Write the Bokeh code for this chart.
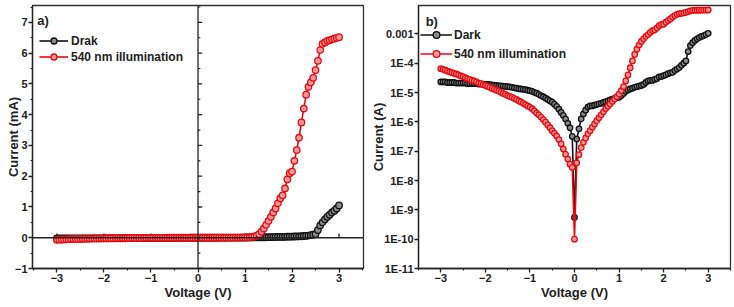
from bokeh.plotting import figure
from bokeh.layouts import row
from bokeh.models import (FixedTicker, Span, Label, Legend, LegendItem,
                          CustomJSTickFormatter, ColumnDataSource)
from bokeh.embed import file_html
from bokeh.resources import INLINE

# Voltage sweep (V)
voltage = [
    -3.00, -2.95, -2.90, -2.85, -2.80, -2.75, -2.70, -2.65, -2.60, -2.55,
    -2.50, -2.45, -2.40, -2.35, -2.30, -2.25, -2.20, -2.15, -2.10, -2.05,
    -2.00, -1.95, -1.90, -1.85, -1.80, -1.75, -1.70, -1.65, -1.60, -1.55,
    -1.50, -1.45, -1.40, -1.35, -1.30, -1.25, -1.20, -1.15, -1.10, -1.05,
    -1.00, -0.95, -0.90, -0.85, -0.80, -0.75, -0.70, -0.65, -0.60, -0.55,
    -0.50, -0.45, -0.40, -0.35, -0.30, -0.25, -0.20, -0.15, -0.10, -0.05,
    0.00,
    0.05, 0.10, 0.15, 0.20, 0.25, 0.30, 0.35, 0.40, 0.45, 0.50,
    0.55, 0.60, 0.65, 0.70, 0.75, 0.80, 0.85, 0.90, 0.95, 1.00,
    1.05, 1.10, 1.15, 1.20, 1.25, 1.30, 1.35, 1.40, 1.45, 1.50,
    1.55, 1.60, 1.65, 1.70, 1.75, 1.80, 1.85, 1.90, 1.95, 2.00,
    2.05, 2.10, 2.15, 2.20, 2.25, 2.30, 2.35, 2.40, 2.45, 2.50,
    2.55, 2.60, 2.65, 2.70, 2.75, 2.80, 2.85, 2.90, 2.95, 3.00,
]

# Dark current (A)
dark_current = [
    -2.3e-5, -2.3e-5, -2.3e-5, -2.2e-5, -2.2e-5, -2.2e-5, -2.2e-5, -2.1e-5, -2.1e-5, -2.1e-5,
    -2.1e-5, -2.1e-5, -2.0e-5, -2.0e-5, -2.0e-5, -2.0e-5, -2.0e-5, -1.95e-5, -1.95e-5, -1.95e-5,
    -1.9e-5, -1.9e-5, -1.86e-5, -1.82e-5, -1.78e-5, -1.74e-5, -1.70e-5, -1.70e-5, -1.66e-5, -1.62e-5,
    -1.58e-5, -1.55e-5, -1.51e-5, -1.45e-5, -1.41e-5, -1.35e-5, -1.32e-5, -1.29e-5, -1.26e-5, -1.20e-5,
    -1.15e-5, -1.10e-5, -1.02e-5, -9.5e-6, -8.7e-6, -7.9e-6, -7.2e-6, -6.5e-6, -5.8e-6, -5.2e-6,
    -4.7e-6, -4.0e-6, -3.4e-6, -2.7e-6, -2.1e-6, -1.66e-6, -1.26e-6, -8.9e-7, -6.3e-7, -3.2e-7,
    5.5e-10,
    2.6e-7, 5.8e-7, 1.26e-6, 1.86e-6, 2.5e-6, 3.2e-6, 3.5e-6, 3.5e-6, 3.7e-6, 3.9e-6,
    4.1e-6, 4.3e-6, 4.6e-6, 4.9e-6, 5.2e-6, 5.6e-6, 6.0e-6, 6.3e-6, 6.6e-6, 6.9e-6,
    7.9e-6, 9.3e-6, 1.10e-5, 1.23e-5, 1.32e-5, 1.41e-5, 1.51e-5, 1.58e-5, 1.66e-5, 1.74e-5,
    1.9e-5, 2.2e-5, 2.5e-5, 2.6e-5, 2.6e-5, 2.8e-5, 3.0e-5, 3.4e-5, 3.5e-5, 3.8e-5,
    4.0e-5, 4.4e-5, 4.7e-5, 4.9e-5, 5.6e-5, 6.3e-5, 7.1e-5, 8.5e-5, 1.0e-4, 1.2e-4,
    2.5e-4, 4.0e-4, 5.0e-4, 6.0e-4, 6.8e-4, 7.5e-4, 8.2e-4, 8.8e-4, 9.5e-4, 1.05e-3,
]

# Current under 540 nm illumination (A)
light_current = [
    -6.5e-5, -6.2e-5, -5.8e-5, -5.4e-5, -5.1e-5, -4.8e-5, -4.5e-5, -4.3e-5, -4.0e-5, -3.7e-5,
    -3.5e-5, -3.2e-5, -3.0e-5, -2.8e-5, -2.6e-5, -2.5e-5, -2.3e-5, -2.1e-5, -2.0e-5, -1.86e-5,
    -1.74e-5, -1.62e-5, -1.51e-5, -1.38e-5, -1.29e-5, -1.20e-5, -1.12e-5, -1.02e-5, -9.3e-6, -8.7e-6,
    -7.9e-6, -7.4e-6, -6.9e-6, -6.3e-6, -5.8e-6, -5.2e-6, -4.8e-6, -4.3e-6, -3.9e-6, -3.5e-6,
    -3.2e-6, -2.8e-6, -2.4e-6, -2.0e-6, -1.74e-6, -1.45e-6, -1.20e-6, -9.8e-7, -7.9e-7, -6.3e-7,
    -5.0e-7, -4.1e-7, -3.3e-7, -2.5e-7, -1.78e-7, -1.20e-7, -7.9e-8, -5.4e-8, -3.6e-8, -2.8e-8,
    1.0e-10,
    4.0e-8, 7.6e-8, 1.32e-7, 2.0e-7, 2.8e-7, 3.9e-7, 5.0e-7, 6.5e-7, 8.5e-7, 1.10e-6,
    1.38e-6, 1.74e-6, 2.2e-6, 2.8e-6, 3.4e-6, 4.1e-6, 5.0e-6, 6.0e-6, 7.2e-6, 8.9e-6,
    1.17e-5, 1.58e-5, 2.5e-5, 4.0e-5, 7.0e-5, 1.2e-4, 2.0e-4, 3.0e-4, 4.2e-4, 5.5e-4,
    6.8e-4, 8.2e-4, 9.5e-4, 1.12e-3, 1.28e-3, 1.38e-3, 1.6e-3, 1.9e-3, 2.1e-3, 2.15e-3,
    2.5e-3, 2.85e-3, 3.25e-3, 3.75e-3, 4.2e-3, 4.65e-3, 4.9e-3, 5.05e-3, 5.2e-3, 5.45e-3,
    5.75e-3, 6.1e-3, 6.3e-3, 6.35e-3, 6.4e-3, 6.42e-3, 6.45e-3, 6.47e-3, 6.5e-3, 6.52e-3,
]

# Axis ticks
v_ticks = [-3, -2, -1, 0, 1, 2, 3]
v_minor = [-3.5, -2.5, -1.5, -0.5, 0.5, 1.5, 2.5, 3.5]
ma_ticks = [-1, 0, 1, 2, 3, 4, 5, 6, 7]
ma_minor = [-0.5, 0.5, 1.5, 2.5, 3.5, 4.5, 5.5, 6.5, 7.5]
log_ticks = [1e-11, 1e-10, 1e-9, 1e-8, 1e-7, 1e-6, 1e-5, 1e-4, 1e-3]
log_labels = ["1E-11", "1E-10", "1E-9", "1E-8", "1E-7", "1E-6", "1E-5", "1E-4", "0.001"]

FONT = "Liberation Sans"
RED = "#e8090f"
RED_FILL = "#ff9a9a"
BLACK = "#111111"
BLACK_FILL = "#8a8a8a"

src = ColumnDataSource(dict(
    v=voltage,
    dark_ma=[i * 1e3 for i in dark_current],
    light_ma=[i * 1e3 for i in light_current],
    dark_abs=[abs(i) for i in dark_current],
    light_abs=[abs(i) for i in light_current],
))


def style(p):
    p.grid.visible = False
    p.outline_line_color = "#333333"
    p.outline_line_width = 1.3
    p.background_fill_color = "white"
    p.border_fill_color = "white"
    for ax in p.axis:
        ax.axis_line_color = "#222222"
        ax.axis_line_width = 1.3
        ax.major_tick_line_color = "#222222"
        ax.major_tick_line_width = 1.3
        ax.minor_tick_line_color = "#222222"
        ax.minor_tick_line_width = 1.1
        ax.major_tick_in = 0
        ax.major_tick_out = 4
        ax.minor_tick_in = 0
        ax.minor_tick_out = 2
        ax.major_label_text_font = FONT
        ax.major_label_text_font_style = "bold"
        ax.major_label_text_font_size = "11px"
        ax.major_label_text_color = "#222222"
        ax.major_label_standoff = 1
        ax.axis_label_text_font = FONT
        ax.axis_label_text_font_style = "bold"
        ax.axis_label_text_font_size = "13px"
        ax.axis_label_text_color = "#222222"
        ax.axis_label_standoff = 0


def add_series(p, ycol, color, fill, size, label_names):
    lines, marks = [], []
    for col, c, f in zip(ycol, color, fill):
        ln = p.line("v", col, source=src, line_color=c, line_width=1.6)
        mk = p.scatter("v", col, source=src, marker="circle", size=size,
                       line_color=c, line_width=1.3, fill_color=f)
        lines.append(ln)
        marks.append(mk)
    return [LegendItem(label=n, renderers=[l, m])
            for n, l, m in zip(label_names, lines, marks)]


# ---- (a) linear current ----
p1 = figure(width=367, height=307, x_range=(-3.52, 3.52), y_range=(-1, 7.55),
            output_backend="svg", toolbar_location=None,
            min_border_left=32, min_border_right=4, min_border_top=4,
            min_border_bottom=37)
style(p1)
p1.yaxis.axis_label_standoff = -9
p1.xaxis.ticker = FixedTicker(ticks=v_ticks, minor_ticks=v_minor)
p1.yaxis.ticker = FixedTicker(ticks=ma_ticks, minor_ticks=ma_minor)
p1.xaxis.axis_label = "Voltage (V)"
p1.yaxis.axis_label = "Current (mA)"

# zero axes crossing inside the frame
p1.add_layout(Span(location=0, dimension="height", line_color="#222222", line_width=1.3))
p1.add_layout(Span(location=0, dimension="width", line_color="#222222", line_width=1.3))
p1.segment(x0=[0] * len(ma_ticks), y0=ma_ticks, x1=[0.09] * len(ma_ticks), y1=ma_ticks,
           line_color="#222222", line_width=1.3)
p1.segment(x0=[0] * len(ma_minor), y0=ma_minor, x1=[0.05] * len(ma_minor), y1=ma_minor,
           line_color="#222222", line_width=1.1)
p1.segment(x0=v_ticks, y0=[0] * len(v_ticks), x1=v_ticks, y1=[0.14] * len(v_ticks),
           line_color="#222222", line_width=1.3)

items1 = add_series(p1, ["dark_ma", "light_ma"], [BLACK, RED], [BLACK_FILL, RED_FILL], 6.5,
                    ["Drak", "540 nm illumination"])
leg1 = Legend(items=items1, location=(7, 204), glyph_width=29, glyph_height=15,
              label_height=15, spacing=1, padding=0, margin=0, label_standoff=3,
              border_line_color=None, background_fill_alpha=0,
              label_text_font=FONT, label_text_font_style="bold",
              label_text_font_size="12px", label_text_color="#222222")
p1.add_layout(leg1)
p1.add_layout(Label(x=-3.42, y=7.07, text="a)", text_font=FONT, text_font_style="bold",
                    text_font_size="13px", text_baseline="middle", text_color="#222222"))

# ---- (b) log |current| ----
p2 = figure(width=367, height=307, x_range=(-3.5, 3.5), y_range=(1e-11, 9.3e-3),
            y_axis_type="log", output_backend="svg", toolbar_location=None,
            min_border_left=51, min_border_right=4, min_border_top=5,
            min_border_bottom=39)
style(p2)
p2.yaxis.axis_label_standoff = -5
p2.xaxis.ticker = FixedTicker(ticks=v_ticks, minor_ticks=v_minor)
p2.yaxis.ticker = FixedTicker(ticks=log_ticks, minor_ticks=[])
p2.yaxis.formatter = CustomJSTickFormatter(
    args=dict(decades=log_ticks, names=log_labels), code="""
    for (let i = 0; i < decades.length; i++) {
        if (Math.abs(Math.log10(decades[i]) - Math.log10(tick)) < 1e-6) return names[i];
    }
    return "";
""")
p2.xaxis.axis_label = "Voltage (V)"
p2.yaxis.axis_label = "Current (A)"

items2 = add_series(p2, ["dark_abs", "light_abs"], [BLACK, RED], [BLACK_FILL, RED_FILL], 5.5,
                    ["Dark", "540 nm illumination"])
leg2 = Legend(items=items2, location=(2, 206), glyph_width=32, glyph_height=17,
              label_height=17, spacing=2, padding=0, margin=0, label_standoff=2,
              border_line_color=None, background_fill_alpha=0,
              label_text_font=FONT, label_text_font_style="bold",
              label_text_font_size="12px", label_text_color="#222222")
p2.add_layout(leg2)
p2.add_layout(Label(x=-3.34, y=2.6e-3, text="b)", text_font=FONT, text_font_style="bold",
                    text_font_size="13px", text_baseline="middle", text_color="#222222"))

layout = row(p1, p2)
open("out.html", "w").write(file_html(layout, INLINE))
